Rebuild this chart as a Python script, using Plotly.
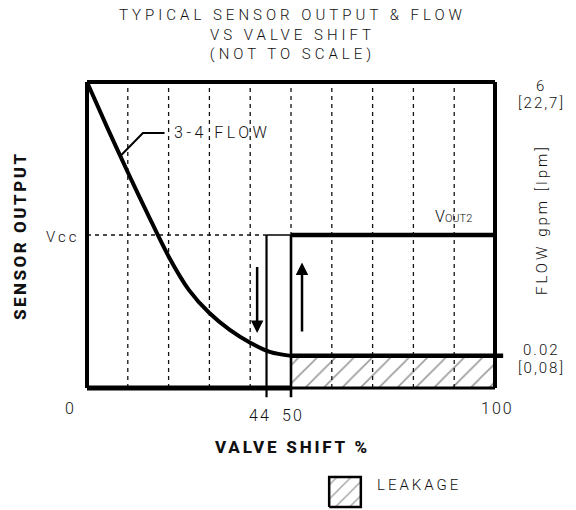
import plotly.graph_objects as go

# ---------------- data ----------------
valve_shift = [0, 5, 10, 15, 20, 25, 30, 35, 40, 45, 50]
flow_curve = [1.0, 0.85, 0.705, 0.565, 0.43, 0.32, 0.245, 0.19, 0.148, 0.117, 0.105]
flow_min = 0.105          # 0.02 gpm level (not to scale)
vcc = 0.5                 # Vcc level
switch_down = 44          # % shift where output drops
switch_up = 50            # % shift where output rises
grid_x = [10, 20, 30, 40, 50, 60, 70, 80, 90]
x_ticks = [0, 44, 50, 100]
x_tick_labels = ["0", "44", "50", "100"]
title_lines = ["TYPICAL SENSOR OUTPUT &amp; FLOW", "VS VALVE SHIFT", "(NOT TO SCALE)"]

FONT = "Roboto, Liberation Sans, sans-serif"
BFONT = "Liberation Sans Narrow, Roboto, Liberation Sans, sans-serif"
INK = "#111111"

def sp(t, ls=3):
    return f'<span style="letter-spacing:{ls}px">{t}</span>'

fig = go.Figure()

# leakage hatched area
fig.add_trace(go.Scatter(
    x=[switch_up, 100, 100, switch_up, switch_up], y=[0, 0, flow_min, flow_min, 0],
    fill="toself", mode="none",
    fillpattern=dict(shape="/", fgcolor="#333333", bgcolor="white", size=13, solidity=0.12),
    hoverinfo="skip"))

# dashed grid verticals
gx, gy = [], []
for g in grid_x:
    gx += [g, g, None]
    gy += [0, 1, None]
fig.add_trace(go.Scatter(x=gx, y=gy, mode="lines",
                         line=dict(color=INK, width=1.3, dash="4px,4px"), hoverinfo="skip"))
# dashed Vcc reference
fig.add_trace(go.Scatter(x=[0, switch_down], y=[vcc, vcc], mode="lines",
                         line=dict(color=INK, width=1.3, dash="4px,4px"), hoverinfo="skip"))

def seg(x, y, w):
    fig.add_trace(go.Scatter(x=x, y=y, mode="lines", line=dict(color="black", width=w),
                             hoverinfo="skip"))

# frame
seg([0, 100], [1, 1], 4)
seg([0, 0], [0, 1], 4)
seg([100, 100], [0, 1], 4)
seg([0, switch_up], [0, 0], 5)
seg([switch_up, 100], [0, 0], 3)

# sensor output hysteresis
seg([switch_down, switch_down], [-0.03, vcc], 2.2)
seg([switch_up, switch_up], [-0.03, vcc], 2.6)
seg([switch_down, switch_up], [vcc, vcc], 1.6)
seg([switch_up, 100], [vcc, vcc], 4.5)

# 3-4 flow curve
fig.add_trace(go.Scatter(x=valve_shift, y=flow_curve, mode="lines",
                         line=dict(color="black", width=4, shape="spline", smoothing=0.8),
                         hoverinfo="skip"))
seg([switch_up, 102], [flow_min, flow_min], 4.5)

# leader for 3-4 FLOW label
seg([8.3, 13.7, 19.0], [0.76, 0.833, 0.833], 2)

# arrows
fig.add_annotation(x=41.7, y=0.18, ax=41.7, ay=0.40, xref="x", yref="y", axref="x", ayref="y",
                   showarrow=True, arrowhead=2, arrowsize=1.0, arrowwidth=2.5, arrowcolor="black", text="")
fig.add_annotation(x=52.7, y=0.41, ax=52.7, ay=0.18, xref="x", yref="y", axref="x", ayref="y",
                   showarrow=True, arrowhead=2, arrowsize=1.0, arrowwidth=2.5, arrowcolor="black", text="")

# leakage legend box (second axes)
fig.add_trace(go.Scatter(
    x=[0, 1, 1, 0, 0], y=[0, 0, 1, 1, 0], xaxis="x2", yaxis="y2",
    fill="toself", mode="lines", line=dict(color="black", width=2.5),
    fillpattern=dict(shape="/", fgcolor="#333333", bgcolor="white", size=10, solidity=0.12),
    hoverinfo="skip"))

W, H = 576, 510
def px(x, y):
    return x / W, 1 - y / H

def label(text, x, y, size=15, bold=False, angle=0, xanchor="center", ls=3, weight=300):
    t = sp(text, ls)
    X, Y = px(x, y)
    fig.add_annotation(x=X, y=Y, xref="paper", yref="paper", text=t, showarrow=False,
                       textangle=angle, xanchor=xanchor, yanchor="middle",
                       font=dict(family=BFONT if bold else FONT, size=size, color=INK,
                                 weight=800 if bold else weight))

# title (one block, three lines)
label("<br>".join(title_lines), 292, 35, 15, ls=4)

# curve label
label("3-4 FLOW", 172, 133, 16, xanchor="left", ls=3.5)
fig.add_annotation(x=px(433, 0)[0], y=px(0, 216)[1], xref="paper", yref="paper",
                   text='V<span style="font-size:11px">OUT2</span>', showarrow=False,
                   xanchor="left", yanchor="middle",
                   font=dict(family=FONT, size=16, color=INK, weight=300))

# axis texts
label("SENSOR OUTPUT", 20, 236, 17, bold=True, angle=-90, ls=2.5)
label("Vcc", 62, 237, 15, ls=3)
label("VALVE SHIFT %", 292, 447, 17, bold=True, ls=2.8)
label("FLOW gpm [lpm]", 542, 220, 15, angle=-90, ls=3)
label("6", 541, 86, 15, ls=2)
label("[22,7]", 541, 103, 15, ls=2)
label("0.02", 541, 350, 15, ls=2)
label("[0,08]", 541, 368, 15, ls=2)
label("LEAKAGE", 375, 485, 15, xanchor="left", ls=3)

# x tick labels
tick_px = {0: (70, 408), 44: (260, 415), 50: (293, 415), 100: (497, 408)}
for v, t in zip(x_ticks, x_tick_labels):
    xx, yy = tick_px[v]
    label(t, xx, yy, 16, ls=2)

# layout: main axes positioned so plot box = px 87..495 x 82..388
x0, x1 = -3, 103
y0, y1 = -0.05, 1.05
left = 87 + x0 * 4.08
right = 87 + x1 * 4.08
top = 388 - y1 * 306
bottom = 388 - y0 * 306
fig.update_layout(
    width=W, height=H, margin=dict(l=0, r=0, t=0, b=0),
    paper_bgcolor="white", plot_bgcolor="white", showlegend=False,
    xaxis=dict(range=[x0, x1], domain=[left / W, right / W], visible=False, fixedrange=True),
    yaxis=dict(range=[y0, y1], domain=[1 - bottom / H, 1 - top / H], visible=False, fixedrange=True),
    xaxis2=dict(range=[-0.1, 1.1], domain=[326 / W, 364 / W], visible=False, anchor="y2",
                fixedrange=True),
    yaxis2=dict(range=[-0.1, 1.1], domain=[0, 36 / H], visible=False, anchor="x2",
                fixedrange=True),
)

fig.write_html("out.html", config={"displayModeBar": False},
               post_script="document.body.style.margin='0';")
